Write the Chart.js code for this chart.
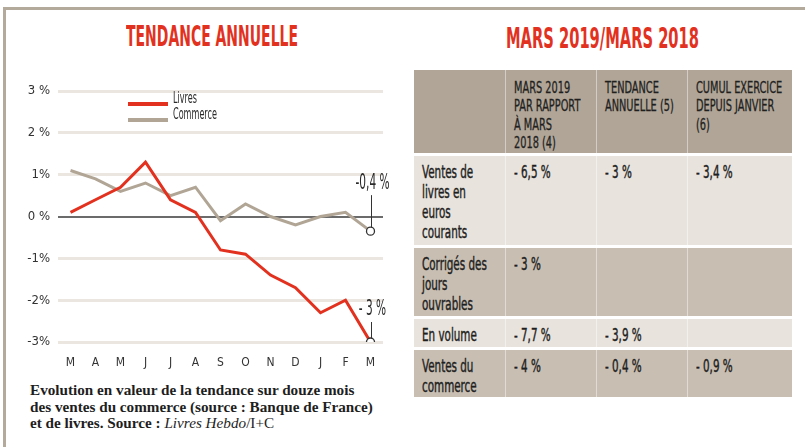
<!DOCTYPE html>
<html lang="fr">
<head>
<meta charset="utf-8">
<script src="https://cdn.jsdelivr.net/npm/chart.js@4"></script>
<style>
  html, body { margin: 0; padding: 0; background: #fff; overflow: hidden; }
  body { width: 805px; height: 447px; position: relative; }
  .frame { position: absolute; left: 3px; top: 7px; width: 900px; height: 600px;
    border-top: 3px solid #b3aa9c; border-left: 3px solid #b3aa9c; }
  .title { position: absolute; font-family: 'DejaVu Sans Condensed', 'DejaVu Sans', sans-serif;
    font-weight: bold; font-size: 29px; line-height: 29px; color: #e2321f; white-space: nowrap;
    transform-origin: left top; }
  #chart-wrap { position: absolute; left: 0; top: 60px; width: 400px; height: 320px; }
  .caption { position: absolute; left: 30px; top: 382px; width: 380px;
    font-family: 'Liberation Serif', 'DejaVu Serif', serif; font-weight: bold;
    font-size: 15.2px; line-height: 16.5px; color: #1e1e1e; white-space: nowrap; }
  .caption i { font-weight: normal; }
  .caption .reg { font-weight: normal; }
  .grid-table { position: absolute; left: 414px; top: 70px; width: 378px; }
  .trow { display: grid; grid-template-columns: 91px 91px 91px 105px; margin-top: 3px; }
  .trow.head { margin-top: 0; background: #b0a596; height: 83px; }
  .trow.light { background: #e8e3dc; }
  .trow.mid { background: #c8beb2; }
  .cell { padding: 6px 0 0 8px; box-sizing: border-box; white-space: nowrap;
    font-family: 'DejaVu Sans Condensed', 'DejaVu Sans', sans-serif; color: #1f1f1f;
    font-size: 18px; line-height: 20px; -webkit-text-stroke: 0.45px #1f1f1f; }
  .cell + .cell { border-left: 1px solid rgba(255,255,255,0.45); }
  .head .cell { font-size: 16px; line-height: 18.6px; padding-top: 8.5px; -webkit-text-stroke: 0.3px #1f1f1f; }
  .sq { display: inline-block; transform-origin: left top; transform: scaleX(0.64); }
  .head .sq { transform: scaleX(0.68); }
</style>
</head>
<body>
<div class="frame"></div>
<div class="title" id="t1" data-w="172" style="left:126px; top:22px;">TENDANCE ANNUELLE</div>
<div class="title" id="t2" data-w="193" style="left:506px; top:24px;">MARS 2019/MARS 2018</div>

<div id="chart-wrap"><canvas id="trend-chart" width="400" height="320"></canvas></div>

<div class="caption">
  Evolution en valeur de la tendance sur douze mois<br>
  des ventes du commerce (source : Banque de France)<br>
  et de livres. Source : <i>Livres Hebdo</i><span class="reg">/I+C</span>
</div>

<div class="grid-table" id="table"></div>

<script>
// ---- data ----
const months = ['M', 'A', 'M', 'J', 'J', 'A', 'S', 'O', 'N', 'D', 'J', 'F', 'M'];
const livres = [0.1, 0.4, 0.7, 1.3, 0.4, 0.1, -0.8, -0.9, -1.4, -1.7, -2.3, -2.0, -3.0];
const commerce = [1.1, 0.9, 0.6, 0.8, 0.5, 0.7, -0.1, 0.3, 0.0, -0.2, 0.0, 0.1, -0.35];
const seriesNames = ['Livres', 'Commerce'];
const endLabels = ['- 3 %', '-0,4 %'];
const yTickLabels = ['-3%', '-2%', '-1%', '0 %', '1%', '2 %', '3 %'];

const tableHeaders = ['MARS 2019\nPAR RAPPORT\nÀ MARS\n2018 (4)', 'TENDANCE\nANNUELLE (5)', 'CUMUL EXERCICE\nDEPUIS JANVIER\n(6)'];
const tableRowLabels = ['Ventes de\nlivres en\neuros\ncourants', 'Corrigés des\njours\nouvrables', 'En volume', 'Ventes du\ncommerce'];
const tableValues = [
  ['- 6,5 %', '- 3 %', '- 3,4 %'],
  ['- 3 %', '', ''],
  ['- 7,7 %', '- 3,9 %', ''],
  ['- 4 %', '- 0,4 %', '- 0,9 %'],
];

const RED = '#e2321f';
const TAUPE = '#b1a696';
const COND = "'DejaVu Sans Condensed', 'DejaVu Sans', sans-serif";

// ---- titles: squeeze to the condensed width of the print font ----
document.querySelectorAll('.title').forEach(el => {
  const w = el.getBoundingClientRect().width;
  el.style.transform = `scaleX(${el.dataset.w / w})`;
});

// ---- table ----
function cellHtml(text) {
  return `<span class="sq">${text.split('\n').join('<br>')}</span>`;
}
const rowHeights = [89, 68, 28, 47];
const tableEl = document.getElementById('table');
let html = `<div class="trow head"><div class="cell"></div>${tableHeaders.map(h => `<div class="cell">${cellHtml(h)}</div>`).join('')}</div>`;
tableRowLabels.forEach((label, i) => {
  html += `<div class="trow ${i % 2 === 0 ? 'light' : 'mid'}" style="height:${rowHeights[i]}px">` +
    `<div class="cell">${cellHtml(label)}</div>` +
    tableValues[i].map(v => `<div class="cell">${cellHtml(v)}</div>`).join('') + `</div>`;
});
tableEl.innerHTML = html;

// ---- chart plugins ----
const lineLegend = {
  id: 'lineLegend',
  afterDraw(chart, args, opts) {
    const ctx = chart.ctx;
    chart.data.datasets.forEach((ds, i) => {
      const y = opts.y + i * opts.gap;
      ctx.save();
      ctx.strokeStyle = ds.borderColor;
      ctx.lineWidth = 4;
      ctx.beginPath();
      ctx.moveTo(opts.x, y);
      ctx.lineTo(opts.x + 40, y);
      ctx.stroke();
      ctx.translate(opts.x + 45, y - 5);
      ctx.scale(0.6, 1);
      ctx.font = '15px ' + COND;
      ctx.fillStyle = '#2a2a2a';
      ctx.textAlign = 'left';
      ctx.textBaseline = 'middle';
      ctx.fillText(ds.label, 0, 0);
      ctx.restore();
    });
  }
};

const endCallouts = {
  id: 'endCallouts',
  afterDatasetsDraw(chart, args, opts) {
    const ctx = chart.ctx;
    chart.data.datasets.forEach((ds, i) => {
      const meta = chart.getDatasetMeta(i);
      const pt = meta.data[meta.data.length - 1];
      const x = Math.round(pt.x) + 0.5;
      const top = pt.y - 4 - opts.lengths[i];
      ctx.save();
      ctx.strokeStyle = '#333';
      ctx.lineWidth = 1;
      ctx.beginPath();
      ctx.moveTo(x, pt.y - 4);
      ctx.lineTo(x, top);
      ctx.stroke();
      ctx.translate(x + 1, top - 12);
      ctx.scale(0.56, 1);
      ctx.font = '21px ' + COND;
      ctx.fillStyle = '#2a2a2a';
      ctx.textAlign = 'center';
      ctx.textBaseline = 'middle';
      ctx.fillText(endLabels[i], 0, 0);
      ctx.restore();
    });
  }
};

const lastPointOnly = (ctx) => ctx.dataIndex === months.length - 1 ? 4 : 0;

new Chart(document.getElementById('trend-chart'), {
  type: 'line',
  data: {
    labels: months,
    datasets: [
      { label: seriesNames[0], data: livres, borderColor: RED, borderWidth: 3, tension: 0,
        pointRadius: lastPointOnly, pointBackgroundColor: '#fff', pointBorderColor: '#333', pointBorderWidth: 1.3 },
      { label: seriesNames[1], data: commerce, borderColor: TAUPE, borderWidth: 3, tension: 0,
        pointRadius: lastPointOnly, pointBackgroundColor: '#fff', pointBorderColor: '#333', pointBorderWidth: 1.3 },
    ]
  },
  options: {
    responsive: false,
    animation: false,
    layout: { padding: { top: 31, right: 17, left: 0, bottom: 0 } },
    plugins: {
      legend: { display: false },
      tooltip: { enabled: false },
      lineLegend: { x: 128, y: 44, gap: 16 },
      endCallouts: { lengths: [16, 32] },
    },
    scales: {
      x: {
        offset: true,
        grid: { display: false },
        border: { display: false },
        ticks: { color: '#333', font: { family: COND, size: 12 }, padding: 6, maxRotation: 0, autoSkip: false },
        afterFit: (s) => { s.height = 38; }
      },
      y: {
        min: -3, max: 3,
        grid: {
          drawTicks: false,
          color: (c) => c.tick && c.tick.value === 0 ? '#6b6b6b' : '#ebe7e0',
          lineWidth: (c) => c.tick && c.tick.value === 0 ? 2 : 3,
        },
        border: { display: false },
        ticks: { stepSize: 1, padding: 8, color: '#333', font: { family: COND, size: 13 },
          callback: (v) => yTickLabels[v + 3] },
        afterFit: (s) => { s.width = 58; }
      }
    }
  },
  plugins: [lineLegend, endCallouts]
});
</script>
</body>
</html>
